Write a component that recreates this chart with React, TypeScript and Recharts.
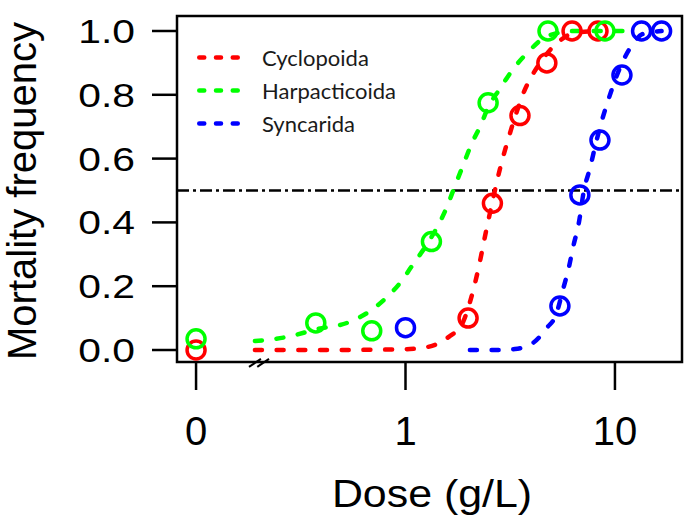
import { ComposedChart, Line, Scatter, XAxis, YAxis, ReferenceLine, ReferenceArea } from 'recharts'

// the control (dose 0) is drawn one decade below 1 g/L, behind the axis break
const CONTROL_DOSE = 0.1
const X_TICKS = [CONTROL_DOSE, 1, 10]
const X_TICK_LABELS = ['0', '1', '10']
const Y_TICKS = [0, 0.2, 0.4, 0.6, 0.8, 1]
const X_DOMAIN = [0.0811, 20.9]
const Y_DOMAIN = [-0.0376, 1.047]
const HALF_LINE = 0.5

const SERIES = ['Cyclopoida', 'Harpacticoida', 'Syncarida']
const COLORS = ['#ff0000', '#00ff00', '#0000ff']

// observed mortality
const cycloDose = [CONTROL_DOSE, 1.99, 2.6, 3.52, 4.73, 6.24, 8.3]
const cycloMort = [0, 0.1, 0.46, 0.735, 0.9, 1, 1]
const harpDose = [CONTROL_DOSE, 0.373, 0.69, 1.33, 2.48, 4.79, 8.96]
const harpMort = [0.035, 0.085, 0.06, 0.34, 0.775, 1, 1]
const syncDose = [1.0, 5.46, 6.8, 8.48, 10.8, 13.4, 16.7]
const syncMort = [0.07, 0.138, 0.486, 0.658, 0.862, 1, 1]

// fitted dose-response curves
const cycloFitDose = [0.191, 0.436, 0.755, 1.05, 1.34, 1.63, 1.86, 2.03, 2.22, 2.42, 2.59, 2.83, 3.09, 3.37, 3.68, 4.02, 4.39, 4.89, 5.47, 6.44, 8.48]
const cycloFitMort = [0, 0, 0.001, 0.003, 0.013, 0.044, 0.08, 0.15, 0.25, 0.37, 0.46, 0.57, 0.66, 0.74, 0.81, 0.86, 0.9, 0.94, 0.97, 0.995, 1]
const harpFitDose = [0.191, 0.272, 0.382, 0.526, 0.655, 0.798, 0.941, 1.09, 1.32, 1.58, 1.69, 1.86, 2.08, 2.27, 2.48, 2.83, 3.26, 3.8, 4.79, 6.44, 12.2]
const harpFitMort = [0.028, 0.041, 0.066, 0.085, 0.116, 0.16, 0.21, 0.27, 0.35, 0.45, 0.5, 0.57, 0.65, 0.7, 0.76, 0.82, 0.88, 0.93, 0.985, 1, 1]
const syncFitDose = [2.03, 2.68, 3.33, 4.06, 4.74, 5.23, 5.65, 6.03, 6.3, 6.73, 7.11, 7.6, 8.12, 8.67, 9.36, 10.2, 11.2, 12.2, 13.5, 16.7]
const syncFitMort = [0, 0, 0.003, 0.022, 0.07, 0.11, 0.19, 0.26, 0.32, 0.4, 0.5, 0.57, 0.65, 0.72, 0.79, 0.86, 0.92, 0.96, 0.99, 1]

// "//" marks on the x axis
const BREAK_SLASHES = [
  [{ x: 0.179, y: -0.053 }, { x: 0.204, y: -0.028 }],
  [{ x: 0.196, y: -0.053 }, { x: 0.223, y: -0.028 }],
]

const toRows = (xs: number[], ys: number[]) => xs.map((dose, i) => ({ dose, p: ys[i] }))

const points = [toRows(cycloDose, cycloMort), toRows(harpDose, harpMort), toRows(syncDose, syncMort)]
const fits = [toRows(cycloFitDose, cycloFitMort), toRows(harpFitDose, harpFitMort), toRows(syncFitDose, syncFitMort)]

const SANS = "'Liberation Sans', Arial, sans-serif"

const ring = (color: string) => (props: any) => (
  <circle cx={props.cx} cy={props.cy} r={9} fill="none" stroke={color} strokeWidth={3.5} />
)

const YTick = ({ x, y, payload }: any) => (
  <g transform={`translate(${x},${y}) scale(1.2,1)`}>
    <text x={0} y={0} dy={12} textAnchor="end" fontSize={34} fontFamily={SANS} fill="#000">
      {Number(payload.value).toFixed(1)}
    </text>
  </g>
)

const XTick = ({ x, y, payload }: any) => {
  const i = X_TICKS.findIndex((t) => Math.abs(t - payload.value) < 1e-9)
  return (
    <text x={x} y={y} dy={29} textAnchor="middle" fontSize={40} fontFamily={SANS} fill="#000">
      {X_TICK_LABELS[i]}
    </text>
  )
}

const XTitle = () => (
  <text transform="translate(432,507) scale(1.1,1)" textAnchor="middle" fontSize={39} fontFamily={SANS} fill="#000">
    Dose (g/L)
  </text>
)

const YTitle = () => (
  <text transform="translate(36,191) rotate(-90)" textAnchor="middle" fontSize={40} fontFamily={SANS} fill="#000">
    Mortality frequency
  </text>
)

function LegendBox() {
  return (
    <svg width={600} height={150} style={{ position: 'absolute', left: 0, top: 0, pointerEvents: 'none' }}>
      {SERIES.map((name, i) => {
        const y = 57.5 + i * 33
        return (
          <g key={name}>
            <line x1={199.25} x2={237.75} y1={y} y2={y} stroke={COLORS[i]} strokeWidth={4.5} strokeDasharray="5 11.75" strokeLinecap="round" />
            <text x={262} y={y + 8} fontSize={22} fontFamily="Lato, sans-serif" fill="#1a1a1a">
              {name}
            </text>
          </g>
        )
      })}
    </svg>
  )
}

export default function App() {
  return (
    <div style={{ position: 'absolute', left: 0, top: 0, width: 685, height: 525, background: '#fff' }}>
      <ComposedChart width={685} height={525} margin={{ top: 16, right: 3, bottom: 0, left: 0 }}>
        <XAxis
          dataKey="dose"
          type="number"
          scale="log"
          domain={X_DOMAIN}
          allowDataOverflow
          ticks={X_TICKS}
          tick={<XTick />}
          tickSize={28}
          tickMargin={26}
          tickLine={{ stroke: '#000', strokeWidth: 2.5 }}
          axisLine={false}
          height={163}
          label={{ content: () => <XTitle /> }}
        />
        <YAxis
          dataKey="p"
          type="number"
          domain={Y_DOMAIN}
          allowDataOverflow
          ticks={Y_TICKS}
          tick={<YTick />}
          tickSize={25}
          tickMargin={17}
          tickLine={{ stroke: '#000', strokeWidth: 2.5 }}
          axisLine={false}
          width={177}
          label={{ content: () => <YTitle /> }}
        />
        <ReferenceArea
          x1={X_DOMAIN[0]}
          x2={X_DOMAIN[1]}
          y1={Y_DOMAIN[0]}
          y2={Y_DOMAIN[1]}
          fill="none"
          fillOpacity={0}
          stroke="#000"
          strokeWidth={2.5}
          ifOverflow="visible"
        />
        <ReferenceLine y={HALF_LINE} stroke="#000" strokeWidth={2.5} strokeDasharray="12 4 3 4" />
        {BREAK_SLASHES.map((seg, i) => (
          <ReferenceLine key={i} segment={seg} stroke="#000" strokeWidth={2} ifOverflow="visible" />
        ))}
        {fits.map((rows, i) => (
          <Line
            key={SERIES[i] + '-fit'}
            data={rows}
            dataKey="p"
            type="monotone"
            stroke={COLORS[i]}
            strokeWidth={4.5}
            strokeDasharray="7 14.7"
            strokeLinecap="round"
            dot={false}
            activeDot={false}
            isAnimationActive={false}
          />
        ))}
        {points.map((rows, i) => (
          <Scatter key={SERIES[i]} data={rows} dataKey="p" shape={ring(COLORS[i])} isAnimationActive={false} />
        ))}
      </ComposedChart>
      <LegendBox />
    </div>
  )
}
